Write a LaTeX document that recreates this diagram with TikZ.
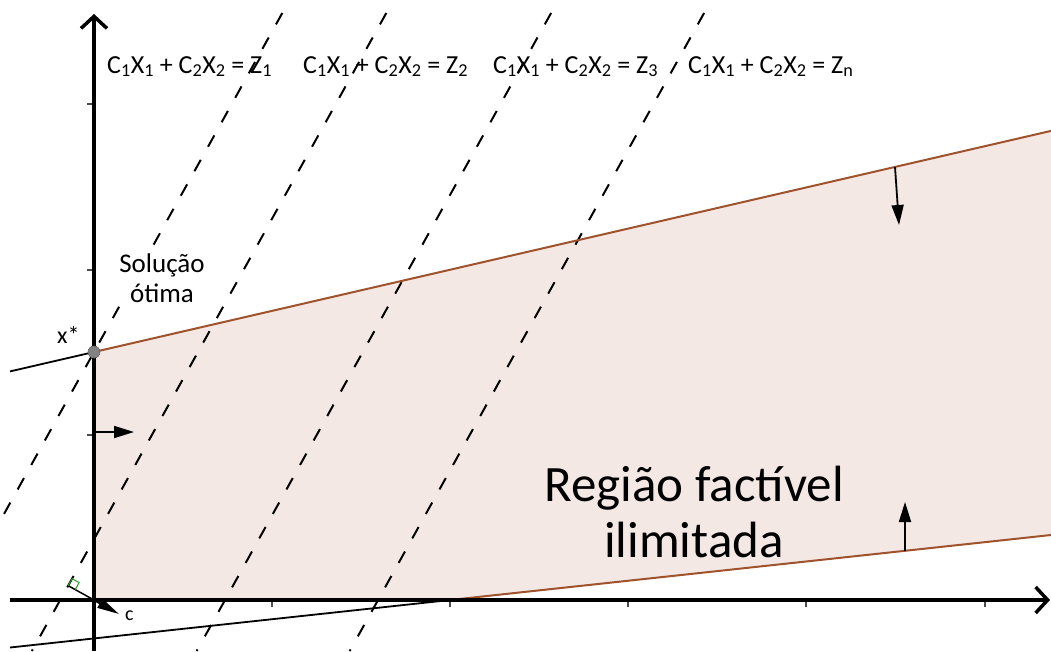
\documentclass[tikz,border=0pt]{standalone}
\usepackage{fontspec}
\setmainfont{Carlito}
\usetikzlibrary{arrows.meta}
\definecolor{feas}{RGB}{243,232,228}
\definecolor{brownl}{RGB}{160,82,45}
\definecolor{rgreen}{RGB}{40,160,40}
\definecolor{ptgray}{RGB}{130,130,130}
\newcommand\objeq[1]{C\textsubscript{1}X\textsubscript{1} + C\textsubscript{2}X\textsubscript{2} = Z\textsubscript{#1}}
\begin{document}
\begin{tikzpicture}[x=1pt,y=-1pt,
  axisline/.style={line width=3.5pt,-{Straight Barb[length=12pt,width=26pt]}},
  tickmark/.style={line width=1.2pt,black!70},
  levelline/.style={line width=2pt,dash pattern=on 13pt off 15pt},
  conline/.style={line width=2pt,brownl},
  extline/.style={line width=1.8pt,black},
  dirarrow/.style={line width=1.8pt,-{Triangle[length=20pt,width=12pt]}},
  eqlabel/.style={font=\fontsize{26}{30}\selectfont,anchor=base west,inner sep=0pt},
  midlabel/.style={font=\fontsize{27}{30}\selectfont,anchor=base,inner sep=0pt,fill=white,inner xsep=6pt,inner ysep=3pt},
  biglabel/.style={font=\fontsize{51}{58}\selectfont,anchor=base,inner sep=0pt}]
\useasboundingbox (0,0) rectangle (1051,651);
% key points
\coordinate (O) at (94,600);
\coordinate (xs) at (94,352);
\coordinate (ur) at (1051,130.9);
\coordinate (ul) at (10,371.4);
\coordinate (lb) at (450,600);
\coordinate (lr) at (1051,535);
\coordinate (ll) at (10,647.5);
% feasible region
\fill[feas] (xs) -- (ur) -- (lr) -- (lb) -- (O) -- cycle;
% level lines
\begin{scope}
\clip (0,0) rectangle (1051,651);
\coordinate (z1t) at (282.3,13); \coordinate (z1b) at (-72.1,651);
\coordinate (z2t) at (386.3,13); \coordinate (z2b) at (31.9,651);
\coordinate (z3t) at (551.1,13); \coordinate (z3b) at (196.7,651);
\coordinate (znt) at (704.1,13); \coordinate (znb) at (349.7,651);
\draw[levelline] (z1t) -- (z1b);
\draw[levelline] (z2t) -- (z2b);
\draw[levelline] (z3t) -- (z3b);
\draw[levelline] (znt) -- (znb);
\end{scope}
% constraint lines
\draw[extline] (ul) -- (xs);
\draw[conline] (xs) -- (ur);
\draw[extline] (ll) -- (lb);
\draw[conline] (lb) -- (lr);
% axes
\coordinate (xa0) at (10,600); \coordinate (xa1) at (1050,600);
\coordinate (ya0) at (94,651); \coordinate (ya1) at (94,14);
\foreach \t in {272,450,628,806,985} \draw[tickmark] (\t,600) -- (\t,607);
\foreach \t in {104,270,435} \draw[tickmark] (87,\t) -- (94,\t);
\draw[axisline] (xa0) -- (xa1);
\draw[axisline] (ya0) -- (ya1);
% direction arrows
\coordinate (ua0) at (895,167); \coordinate (ua1) at (899,225);
\coordinate (la0) at (905,551); \coordinate (la1) at (905,502);
\coordinate (ha0) at (94,432); \coordinate (ha1) at (134,432);
\draw[dirarrow] (ua0) -- (ua1);
\draw[dirarrow] (la0) -- (la1);
\draw[dirarrow] (ha0) -- (ha1);
% c vector and right angle
\coordinate (ft) at (68.2,585.7);
\coordinate (ct) at (119,614);
\draw[line width=1.5pt] (ft) -- (O);
\draw[line width=2pt,-{Triangle[length=22pt,width=10pt]}] (O) -- (ct);
\draw[rgreen,line width=1pt] (ft) -- ++(3.9,-7.0) -- ++(7.0,3.9) -- ++(-3.9,7.0);
% optimum point
\node[circle,fill=ptgray,draw=black!60,line width=0.6pt,minimum size=12pt,inner sep=0pt] (opt) at (xs) {};
% labels
\node[eqlabel] (e1) at (107,73) {\objeq{1}};
\node[eqlabel] (e2) at (303,73) {\objeq{2}};
\node[eqlabel] (e3) at (493,73) {\objeq{3}};
\node[eqlabel] (en) at (688,73) {\objeq{n}};
\node[midlabel] (s1) at (162,272) {Solução};
\node[midlabel] (s2) at (162,302) {ótima};
\node[font=\fontsize{24}{28}\selectfont,anchor=base west,inner sep=0pt] (xl) at (57,343) {x*};
\node[font=\fontsize{20}{24}\selectfont,anchor=base west,inner sep=0pt] (cl) at (125,620) {c};
\node[biglabel] (r1) at (694,501) {Região factível};
\node[biglabel] (r2) at (694,557) {ilimitada};
\end{tikzpicture}
\end{document}
